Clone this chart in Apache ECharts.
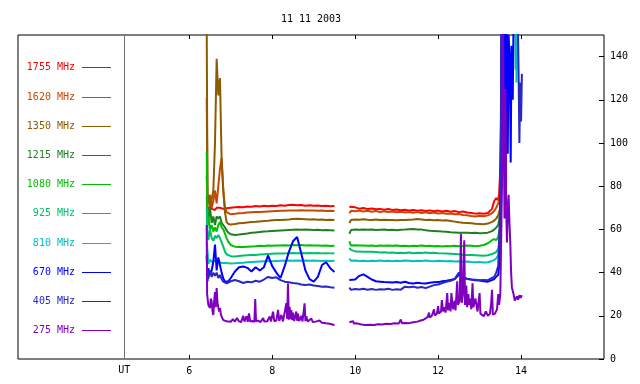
<!DOCTYPE html>
<html>
<head>
<meta charset="utf-8">
<script src="https://cdn.jsdelivr.net/npm/echarts@6/dist/echarts.min.js"></script>
<style>html,body{margin:0;padding:0;background:#fff}#c{width:640px;height:384px}</style>
</head>
<body>
<div id="c"></div>
<script>
const titleText = '11 11 2003';
const names = ['1755 MHz','1620 MHz','1350 MHz','1215 MHz','1080 MHz','925 MHz','810 MHz','670 MHz','405 MHz','275 MHz'];
const colors = ['#ff0000','#c84800','#8c5c00','#208020','#00c000','#00c070','#00c0c0','#0000ff','#2828c8','#8000c0'];
const xTicks = [6,8,10,12,14];
const yTicks = [0,20,40,60,80,100,120,140];
const utHour = 4.43;

const tA = [6.42,6.44,6.46,6.50,6.54,6.58,6.62,6.66,6.70,6.74,6.78,6.82,6.86,6.90,6.94,
  7.0,7.1,7.2,7.3,7.4,7.5,7.6,7.7,7.8,7.9,8.0,8.1,8.2,8.3,8.4,8.5,8.6,8.7,8.8,8.9,9.0,9.1,9.2,9.3,9.4,9.5];
const tB = [9.86,9.9,10.0,10.1,10.2,10.3,10.4,10.5,10.6,10.7,10.8,10.9,11.0,11.1,11.2,11.3,11.4,11.5,11.6,11.7,11.8,11.9,
  12.0,12.1,12.2,12.3,12.4,12.5,12.6,12.7,12.8,12.9,13.0,13.1,13.2,13.3];

const v1755A = [85,70,69,70.5,69.5,70,69,70,69.5,70,70.5,69.5,70,69.8,70.2,
  70,70.2,70.4,70.3,70.6,70.5,70.8,70.6,70.9,70.7,71,70.8,71.2,71,71.3,71.4,71.2,71.3,71,71.2,70.9,71.1,70.8,70.9,70.7,70.8];
const v1755B = [70.5,69.8,70.2,69.6,69.9,69.4,69.7,69.3,69.5,69.1,69.4,69,69.2,68.9,69.1,68.7,69,68.6,68.9,68.5,68.8,68.4,
  68.7,68.3,68.6,68.2,68.5,68,68.3,67.8,67.6,67.3,67.5,67.2,67.6,69.5];
const e1755 = [[13.35,73],[13.4,74.5],[13.44,73.5],[13.47,76],[13.5,88],[13.52,87],[13.54,160]];

const v1620A = [121,75,72,76,70,73,78,72,80,88,93,78,70,68,67.5,
  67,67.2,67.5,67.6,67.8,67.9,68,68.1,68.2,68.3,68.4,68.5,68.6,68.6,68.7,68.8,68.8,68.9,68.8,68.7,68.8,68.6,68.7,68.5,68.6,68.5];
const v1620B = [67.5,68.6,68.4,68.7,68.3,68.6,68.2,68.5,68.1,68.4,68,68.3,67.9,68.2,67.8,68.1,67.7,68,67.6,67.9,67.5,67.8,
  67.4,67.6,67.2,67.4,67,67.1,66.7,66.5,66.2,66,66.3,66.1,66.5,67.5];
const e1620 = [[13.35,68.5],[13.4,70],[13.45,72],[13.5,76],[13.53,122],[13.55,160]];

const v1350A = [155,73,76,71,74,78,100,139,122,130,92,78,68,63.5,62.5,
  62.3,62.5,62.8,63,63.2,63.4,63.5,63.7,63.9,64,64.2,64.3,64.4,64.5,64.6,64.8,64.9,64.8,64.7,64.6,64.7,64.5,64.6,64.4,64.5,64.3];
const v1350B = [63,64.4,64.6,64.5,64.7,64.5,64.4,64.6,64.3,64.5,64.3,64.4,64.2,64.4,64.3,64.5,64.6,64.8,64.6,64.4,64.5,64.2,
  64.3,64.1,64.2,63.9,63.6,63.3,63.1,63,62.8,62.6,62.5,62.4,62.7,63.5];
const e1350 = [[13.35,64],[13.4,65],[13.45,66.5],[13.5,70],[13.54,160]];

const v1215A = [75,68,64,70,63,66,62,66,65,66,63,62,61,59.5,58.5,
  57.8,57.4,57.6,57.9,58.1,58.4,58.6,58.8,59,59.1,59.3,59.4,59.5,59.6,59.7,59.8,59.9,59.8,59.9,59.8,59.7,59.8,59.6,59.7,59.6,59.5];
const v1215B = [58,59.7,59.9,59.8,60,59.8,59.9,59.7,59.8,59.9,59.7,59.8,59.6,59.8,59.9,60.1,60.2,60,59.9,59.6,59.4,59.3,
  59.2,59,58.9,58.7,58.6,58.5,58.4,58.5,58.3,58.4,58.2,58.3,58.5,59.2];
const e1215 = [[13.35,60],[13.4,60.8],[13.45,62],[13.5,68],[13.54,160]];

const v1080A = [96,62,66,60,62,59,61,59,62,63.5,61,60,58,56,54.3,
  52.8,52,51.8,51.9,52,52.1,52.2,52.4,52.3,52.5,52.4,52.6,52.5,52.7,52.6,52.8,52.7,52.8,52.6,52.7,52.5,52.6,52.4,52.5,52.3,52.4];
const v1080B = [54.5,52.5,52.7,52.5,52.6,52.4,52.5,52.3,52.5,52.4,52.6,52.4,52.5,52.3,52.4,52.2,52.4,52.3,52.5,52.3,52.4,52.2,
  52.3,52.1,52.3,52.2,52.4,52.2,52.3,52.5,52.4,52.2,52.4,52.8,53.6,55];
const e1080 = [[13.35,55.5],[13.4,55],[13.45,56.5],[13.5,62],[13.54,160]];

const v925A = [70,58,55,60,56,54.7,57,56,57.4,56,54,52,49.7,48.5,47.8,
  47.6,47.5,47.7,47.9,48,48.1,48.2,48.4,48.5,48.6,48.7,48.8,48.9,48.9,49,49.1,49,49.1,49,49.1,49,49.1,48.9,49,48.9,49];
const v925B = [51.5,50.5,49.8,49.8,49.6,49.7,49.6,49.5,49.3,49.4,49.2,49.3,49.1,49.2,49.1,49.3,49,49.2,49.1,49.3,49.1,49.2,
  49,48.9,48.8,48.7,48.6,48.5,48.3,48.2,48.1,48,47.9,47.8,48,48.6];
const e925 = [[13.35,49],[13.4,49.5],[13.45,51],[13.5,58],[13.55,160],[13.86,160],[13.87,134],[13.89,160]];

const v810A = [54,50,44,46,45,44.5,45.5,44.8,45,44.3,44.5,44.2,44.4,44.2,44.3,
  44.2,44.3,44.5,44.6,44.8,44.9,45,45.1,45.2,45.3,45.3,45.4,45.5,45.5,45.6,45.5,45.6,45.5,45.6,45.5,45.6,45.5,45.4,45.5,45.4,45.5];
const v810B = [46.5,45.5,45.6,45.4,45.5,45.3,45.5,45.4,45.6,45.4,45.5,45.3,45.5,45.4,45.6,45.5,45.3,45.5,45.4,45.6,45.4,45.3,
  45.5,45.4,45.2,45.4,45.1,45.2,45,45.1,44.9,44.8,44.9,44.7,44.8,45.4];
const e810 = [[13.35,45.8],[13.4,46.5],[13.45,48],[13.5,56],[13.55,160],[13.88,160],[13.89,128],[13.91,160]];

const v670A = [48,36,42,39,41,45,53,41,47,43.5,40,37.3,35.8,35,36,
  37.5,40.5,42.5,42.8,42.2,40.5,42.5,41,42.5,48,43,40,37.5,43,49.5,54.5,56.5,49,41,37,35.8,38,43.5,44.8,42,40.3];
const v670B = [36.6,36.4,36.8,38.5,39.2,38,36.8,36,35.8,35.6,35.5,35.4,35.6,35.3,35.8,35.2,35,35.3,35.1,35,35.3,35.5,
  35.6,36,36.2,36.6,37,39,37.8,37.2,36.8,36.5,36.3,36,35.8,36.5];
const e670 = [[13.35,37],[13.4,38],[13.45,39],[13.48,45],[13.51,90],[13.53,160],[13.56,160],[13.58,111],[13.6,160],[13.63,78],
  [13.65,160],[13.68,95],[13.7,150],[13.73,137],[13.75,91],[13.77,145],[13.8,120],[13.82,160]];

const v405A = [39,42,37.3,41,38,40,38.5,40,37.5,38.9,37,35.8,35.2,35,35.4,
  36,36.6,36,35.2,35.8,35.5,36.2,35.8,36.8,38,37.5,37.8,36.5,35.8,35.5,35.2,35,34.5,34.3,34.5,34,33.8,33.5,33.6,33.2,33];
const v405B = [33,32,32.4,32.2,32.5,32.1,32.4,32,32.3,32.2,32.5,32,32.3,32.1,33.5,33.2,33.5,33,33.3,32.8,33.5,34.2,
  34.5,35.2,35.8,36.2,37,40,37.5,37,36.8,36.7,36.5,36.6,36.5,37.5];
const e405 = [[13.35,38],[13.4,40],[13.45,43],[13.5,70],[13.53,160],[13.92,160],[13.94,133],[13.96,100],[13.98,128],[14.0,110],[14.02,132]];

const p275A = [[6.42,62],[6.43,30],[6.46,25],[6.50,23.6],[6.52,28],[6.54,26.5],[6.56,22],[6.58,20.4],[6.60,27],[6.62,31],
  [6.64,24],[6.66,32.8],[6.68,26],[6.70,26.5],[6.72,22],[6.74,23.6],[6.76,21],[6.78,19.6],[6.82,18],[6.86,17.3],[6.9,17.5],
  [7.0,17.2],[7.05,18.5],[7.1,17.3],[7.15,19],[7.2,17.4],[7.25,17.1],[7.3,20],[7.33,17.3],[7.38,19.8],[7.41,17.2],[7.44,21.1],
  [7.47,17.3],[7.52,17.6],[7.57,17.2],[7.59,27.8],[7.61,17.4],[7.66,17.8],[7.72,17.1],[7.78,19],[7.81,17.3],[7.88,17.5],
  [7.94,19.7],[7.97,17.4],[8.02,21.9],[8.05,17.5],[8.1,17.8],[8.14,22.7],[8.17,17.6],[8.22,20.4],[8.26,17.4],[8.3,18],
  [8.34,25.8],[8.36,18.5],[8.38,35],[8.40,18.2],[8.42,24.2],[8.44,18.5],[8.46,22.7],[8.48,18],[8.5,21.5],[8.53,17.6],
  [8.58,22],[8.6,17.7],[8.62,21],[8.65,17.5],[8.7,20],[8.73,17.4],[8.78,25.8],[8.8,17.5],[8.82,19.8],[8.86,17.3],
  [8.94,18.8],[8.98,17.1],[9.05,17.3],[9.14,17.8],[9.2,16.8],[9.3,16.5],[9.38,16.3],[9.42,15.8],[9.5,15.7]];
const p275B = [[9.86,17],[9.9,16.5],[9.95,17.5],[9.97,16.4],[10.05,16.5],[10.15,16],[10.25,15.7],[10.35,15.8],[10.45,15.7],
  [10.55,16.1],[10.65,16],[10.75,16.3],[10.85,16.2],[10.95,16.5],[11.05,16.4],[11.1,18.3],[11.13,16.5],[11.2,16.7],[11.3,16.6],
  [11.4,17],[11.5,17.3],[11.58,17.8],[11.65,18.2],[11.7,18.8],[11.75,19.5],[11.78,21.5],[11.8,19.2],[11.85,20],[11.9,23],
  [11.92,20.2],[11.97,21],[12.0,24.5],[12.02,21],[12.07,22],[12.09,27.3],[12.12,22],[12.15,24],[12.18,21.5],[12.22,30.5],
  [12.24,22.5],[12.28,26],[12.3,22],[12.32,30.5],[12.36,23],[12.4,27],[12.42,22.5],[12.46,36],[12.48,25],[12.52,27],
  [12.55,58],[12.57,26],[12.6,30],[12.63,55],[12.65,25],[12.68,34],[12.7,24],[12.73,30],[12.75,25],[12.78,28],[12.8,23],
  [12.83,35],[12.85,24],[12.9,28],[12.95,22],[13.0,30.5],[13.02,21],[13.05,20.5],[13.1,19.8],[13.15,22],[13.2,20],[13.25,21],
  [13.28,26],[13.3,32],[13.32,20.5],[13.37,21],[13.42,23],[13.45,30],[13.47,25],[13.5,30],[13.54,80],[13.56,160],[13.59,160],
  [13.6,65],[13.62,125],[13.64,72],[13.66,54],[13.68,70],[13.7,76],[13.72,63],[13.74,54],[13.76,40],[13.78,33],[13.82,30],
  [13.85,27],[13.88,26.5],[13.9,29],[13.93,27.5],[13.96,29.5],[13.99,28.3],[14.02,29.5]];

function build(vA, vB, E) {
  return tA.map((t, i) => [t, vA[i]])
    .concat([[9.7, null]], tB.map((t, i) => [t, vB[i]]), E);
}
const seriesData = [
  build(v1755A, v1755B, e1755),
  build(v1620A, v1620B, e1620),
  build(v1350A, v1350B, e1350),
  build(v1215A, v1215B, e1215),
  build(v1080A, v1080B, e1080),
  build(v925A, v925B, e925),
  build(v810A, v810B, e810),
  build(v670A, v670B, e670),
  build(v405A, v405B, e405),
  p275A.concat([[9.7, null]], p275B)
];

const FONT = 'DejaVu Sans Mono';
const chart = echarts.init(document.getElementById('c'), null, {renderer: 'canvas'});

const series = seriesData.map((d, i) => ({
  name: names[i], type: 'line', data: d, showSymbol: false, symbol: 'none',
  connectNulls: false, clip: true, animation: false,
  lineStyle: {color: colors[i], width: 2}, itemStyle: {color: colors[i]}
}));
series[0].markLine = {
  silent: true, symbol: 'none', animation: false,
  lineStyle: {color: '#707070', width: 1, type: 'solid'},
  label: {show: true, position: 'start', formatter: 'UT', color: '#000', fontFamily: FONT, fontSize: 10, distance: 6},
  data: [{xAxis: utHour}]
};

const graphic = [{
  type: 'text', x: 311, y: 19,
  style: {text: titleText, font: '10px ' + FONT, fill: '#000', textAlign: 'center', textVerticalAlign: 'middle'}
}];
names.forEach((n, i) => {
  const y = Math.round(67.3 + 29.2 * i) + 0.5;
  graphic.push({type: 'text', x: 75, y: y,
    style: {text: n, font: '10px ' + FONT, fill: colors[i], textAlign: 'right', textVerticalAlign: 'middle'}});
  graphic.push({type: 'line', shape: {x1: 82, y1: y, x2: 111, y2: y},
    style: {stroke: colors[i], lineWidth: 1}});
});

chart.setOption({
  animation: false,
  backgroundColor: '#fff',
  grid: {left: 18, top: 35, right: 36, bottom: 25, show: true, borderColor: '#000', borderWidth: 1, backgroundColor: 'transparent'},
  xAxis: [{
    type: 'value', min: 1.87, max: 16, position: 'bottom',
    axisLine: {show: false}, splitLine: {show: false},
    axisTick: {show: true, inside: true, length: 4, customValues: xTicks, lineStyle: {color: '#000'}},
    axisLabel: {show: true, customValues: xTicks, margin: 7, color: '#000', fontFamily: FONT, fontSize: 10}
  }, {
    type: 'value', min: 1.87, max: 16, position: 'top',
    axisLine: {show: false}, splitLine: {show: false},
    axisTick: {show: true, inside: true, length: 4, customValues: xTicks, lineStyle: {color: '#000'}},
    axisLabel: {show: false}
  }],
  yAxis: {
    type: 'value', min: 0, max: 150, position: 'right',
    axisLine: {show: false}, splitLine: {show: false},
    axisTick: {show: true, inside: true, length: 5, customValues: yTicks, lineStyle: {color: '#000'}},
    axisLabel: {show: true, customValues: yTicks, margin: 6, color: '#000', fontFamily: FONT, fontSize: 10}
  },
  series: series,
  graphic: graphic
});
</script>
</body>
</html>
